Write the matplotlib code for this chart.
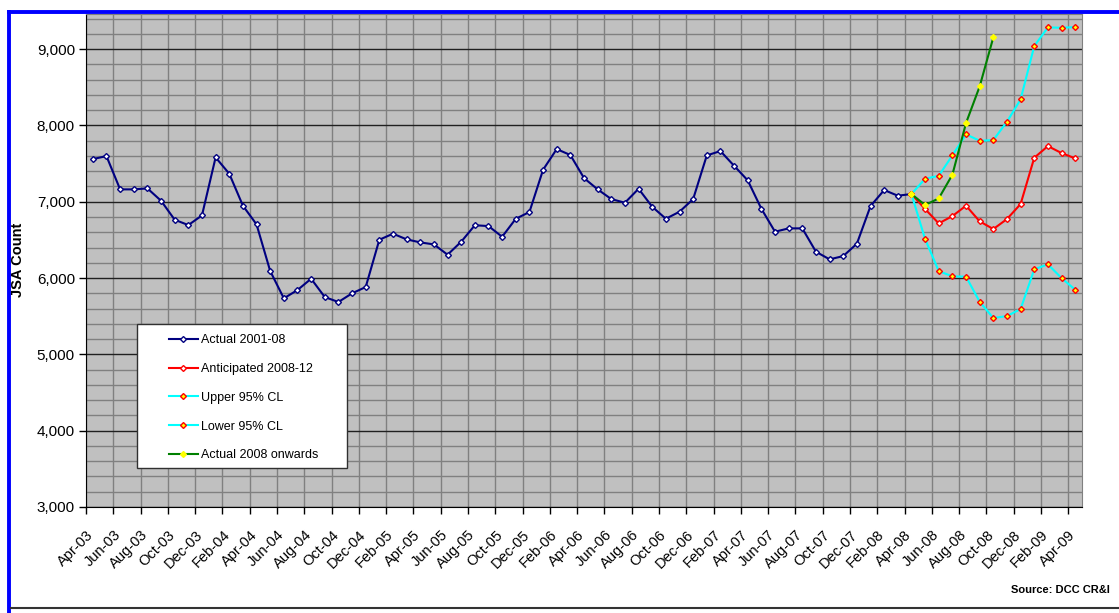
"""JSA count: actual vs anticipated with 95% confidence limits."""

import matplotlib

matplotlib.use("Agg")

import matplotlib.pyplot as plt
import numpy as np
import pandas as pd
from matplotlib.lines import Line2D
from matplotlib.patches import Rectangle
from matplotlib.ticker import FuncFormatter, MultipleLocator

plt.rcParams["font.family"] = ["Liberation Sans", "DejaVu Sans"]

# monthly categories Apr-03 .. Apr-09
MONTHS = pd.date_range("2003-04-01", periods=73, freq="MS").strftime("%b-%y").tolist()

ACTUAL = [
    7559, 7598, 7162, 7162, 7175, 7013, 6764, 6694, 6821, 7581,
    7367, 6948, 6703, 6092, 5734, 5843, 5991, 5751, 5686, 5800,
    5882, 6502, 6581, 6507, 6467, 6441, 6306, 6476, 6692, 6681,
    6541, 6777, 6865, 7419, 7690, 7612, 7310, 7162, 7035, 6987,
    7170, 6934, 6777, 6869, 7035, 7607, 7664, 7471, 7280, 6908,
    6607, 6651, 6651, 6345, 6245, 6288, 6450, 6943, 7153, 7079,
    7101,
]
FORECAST_START = 60  # Apr-08
ANTICIPATED = [7101, 6904, 6716, 6812, 6948, 6743, 6642, 6773, 6970, 7576, 7729, 7638, 7568]
UPPER_CL = [7101, 7301, 7340, 7607, 7883, 7799, 7808, 8048, 8341, 9040, 9284, 9280, 9288]
LOWER_CL = [7101, 6511, 6092, 6022, 6018, 5690, 5476, 5502, 5594, 6114, 6180, 6000, 5847]
ACTUAL_2008 = [7101, 6957, 7044, 7354, 8031, 8511, 9153]

W, H = 1119, 613
fig = plt.figure(figsize=(W / 100, H / 100), dpi=100)
ax = fig.add_axes([86 / W, 1 - 507 / H, (1082 - 86) / W, (507 - 14) / H])
ax.set_facecolor("#C0C0C0")

x_actual = np.arange(len(ACTUAL)) + 0.5
x_fc = np.arange(len(ANTICIPATED)) + FORECAST_START + 0.5
x_a08 = np.arange(len(ACTUAL_2008)) + FORECAST_START + 0.5

common = dict(linewidth=1.5, marker="D", markersize=3.0, markeredgewidth=1.0)
ax.plot(x_actual, ACTUAL, color="#000080", markerfacecolor="white",
        markeredgecolor="#000080", label="Actual 2001-08", zorder=3, **common)
ax.plot(x_fc, ANTICIPATED, color="#FF0000", markerfacecolor="white",
        markeredgecolor="#FF0000", label="Anticipated 2008-12", zorder=3, **common)
ax.plot(x_fc, UPPER_CL, color="#00FFFF", markerfacecolor="#FFFF00",
        markeredgecolor="#FF0000", label="Upper 95% CL", zorder=3, **common)
ax.plot(x_fc, LOWER_CL, color="#00FFFF", markerfacecolor="#FFFF00",
        markeredgecolor="#FF0000", label="Lower 95% CL", zorder=3, **common)
ax.plot(x_a08, ACTUAL_2008, color="#008000", markerfacecolor="#FFFF00",
        markeredgecolor="#FFFF00", label="Actual 2008 onwards", zorder=4, **common)

ax.set_xlim(0, len(MONTHS))
ax.set_ylim(3000, 9460)

ax.set_xticks(np.arange(0, len(MONTHS), 2))
ax.set_xticklabels(MONTHS[::2], rotation=45, ha="right", va="top",
                   rotation_mode="anchor", fontsize=10.5)
ax.yaxis.set_major_locator(MultipleLocator(1000))
ax.yaxis.set_minor_locator(MultipleLocator(200))
ax.yaxis.set_major_formatter(FuncFormatter(lambda v, _: f"{v:,.0f}"))
ax.tick_params(axis="y", which="major", labelsize=11, length=5, width=1, pad=3, direction="out")
ax.tick_params(axis="y", which="minor", length=0)
ax.tick_params(axis="x", length=5, width=1, pad=10, direction="out")

ax.grid(axis="x", which="major", color="#808080", linewidth=1)
ax.grid(axis="y", which="minor", color="#808080", linewidth=1)
ax.grid(axis="y", which="major", color="#202020", linewidth=1)
ax.set_axisbelow(True)
for side in ("top", "right"):
    ax.spines[side].set_color("#808080")
for side in ("left", "bottom"):
    ax.spines[side].set_color("black")

fig.text(18 / W, 1 - 260 / H, "JSA Count", rotation=90, ha="center", va="center",
         fontsize=10.5, fontweight="bold")
fig.text(1110 / W, 1 - 590 / H, "Source: DCC CR&I", ha="right", va="center",
         fontsize=8, fontweight="bold")

# legend box drawn separately so the padding can match the original
ax.add_patch(Rectangle((137 / W, 1 - 468 / H), 210 / W, 144 / H, transform=fig.transFigure,
                       facecolor="white", edgecolor="#303030", linewidth=1,
                       clip_on=False, zorder=8))
leg = ax.legend(loc="upper left", bbox_to_anchor=(169 / W, 1 - 334 / H),
                bbox_transform=fig.transFigure, frameon=False, fontsize=9,
                borderpad=0, borderaxespad=0, handlelength=2.3, handletextpad=0.25,
                labelspacing=1.35)
leg.set_zorder(9)

# chart border: blue left/top, dark bottom
fig.add_artist(Line2D([9 / W, 9 / W], [1 - 12 / H, 0], color="#0000FF", linewidth=2.8))
fig.add_artist(Line2D([9 / W, 1], [1 - 12 / H, 1 - 12 / H], color="#0000FF", linewidth=2.8))
fig.add_artist(Line2D([11 / W, 1], [1 - 608 / H, 1 - 608 / H], color="#333333", linewidth=1.5))

fig.savefig("out.png", dpi=100)
plt.close(fig)
